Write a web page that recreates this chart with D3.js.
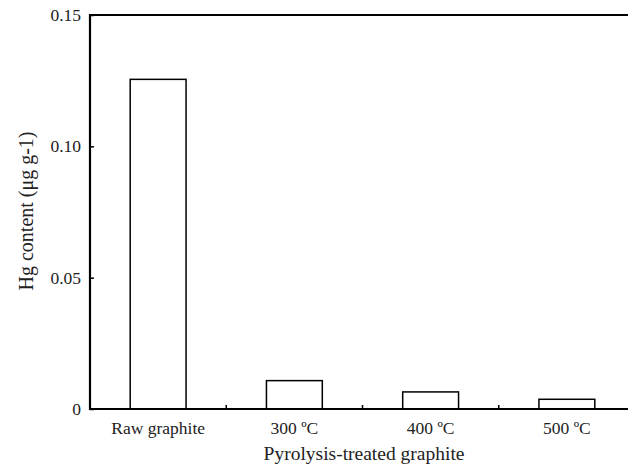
<!DOCTYPE html>
<html>
<head>
<meta charset="utf-8">
<script src="https://cdn.jsdelivr.net/npm/d3@7"></script>
<style>
  body { margin: 0; background: #fff; }
  svg { display: block; font-family: "Liberation Serif", "DejaVu Serif", serif; }
</style>
</head>
<body>
<script>
// data
var categories = ['Raw graphite', '300 \u00BAC', '400 \u00BAC', '500 \u00BAC'];
var hgValues   = [0.1255, 0.0108, 0.0065, 0.0037];
var yTicks     = [0, 0.05, 0.10, 0.15];
var yTickLabels = ['0', '0.05', '0.10', '0.15'];

var width  = 628,
    height = 466,
    margin = {top: 15, left: 90, bottom: 57, right: -7};

var svg = d3.select('body')
    .append('svg')
    .attr('width', width)
    .attr('height', height);

var x = d3.scaleBand()
    .domain(categories)
    .range([margin.left, width - margin.right])
    .paddingInner(0.59)
    .paddingOuter(0.295);

var y = d3.scaleLinear()
    .domain([0, 0.15])
    .range([height - margin.bottom, margin.top]);

var step = x.step();

// bars
svg.append('g').selectAll('rect')
    .data(categories)
    .enter().append('rect')
    .attr('x', function(d) { return x(d); })
    .attr('y', function(d, i) { return y(hgValues[i]); })
    .attr('width', x.bandwidth())
    .attr('height', function(d, i) { return y(0) - y(hgValues[i]); })
    .attr('fill', '#fff')
    .attr('stroke', '#000')
    .attr('stroke-width', 1.5);

// y axis, ticks pointing inward
var yAxis = svg.append('g')
    .attr('transform', 'translate(' + margin.left + ',0)')
    .call(d3.axisRight(y).tickValues(yTicks).tickSize(4).tickFormat(''));
yAxis.select('.domain').remove();
yAxis.selectAll('line').attr('stroke', '#000').attr('stroke-width', 1.5);

svg.append('g').selectAll('text.ytick')
    .data(yTicks)
    .enter().append('text')
    .attr('class', 'ytick')
    .attr('x', margin.left - 9)
    .attr('y', function(d) { return y(d); })
    .attr('dy', '0.35em')
    .attr('text-anchor', 'end')
    .attr('fill', '#222')
    .style('font-size', '17.5px')
    .text(function(d, i) { return yTickLabels[i]; });

// x axis: ticks at boundaries between categories
var bounds = categories.slice(1).map(function(d) { return x(d) - (step - x.bandwidth()) / 2; });
svg.append('g').selectAll('line.xtick')
    .data(bounds)
    .enter().append('line')
    .attr('class', 'xtick')
    .attr('x1', function(d) { return d; })
    .attr('x2', function(d) { return d; })
    .attr('y1', y(0))
    .attr('y2', y(0) - 4)
    .attr('stroke', '#000')
    .attr('stroke-width', 1.5);

svg.append('g').selectAll('text.xlab')
    .data(categories)
    .enter().append('text')
    .attr('class', 'xlab')
    .attr('x', function(d) { return x(d) + x.bandwidth() / 2; })
    .attr('y', y(0) + 25)
    .attr('text-anchor', 'middle')
    .attr('fill', '#222')
    .style('font-size', '17.5px')
    .text(function(d) { return d; });

// frame: left, top, bottom
svg.append('path')
    .attr('d', 'M' + width + ',' + margin.top + 'H' + margin.left + 'V' + y(0) + 'H' + width)
    .attr('fill', 'none')
    .attr('stroke', '#000')
    .attr('stroke-width', 2.2);

// axis titles
svg.append('text')
    .attr('x', 364)
    .attr('y', 460)
    .attr('text-anchor', 'middle')
    .attr('fill', '#222')
    .style('font-size', '19.5px')
    .text('Pyrolysis-treated graphite');

svg.append('text')
    .attr('transform', 'translate(33,211) rotate(-90)')
    .attr('text-anchor', 'middle')
    .attr('fill', '#222')
    .style('font-size', '20px')
    .text('Hg content (\u03BCg g-1)');
</script>
</body>
</html>
